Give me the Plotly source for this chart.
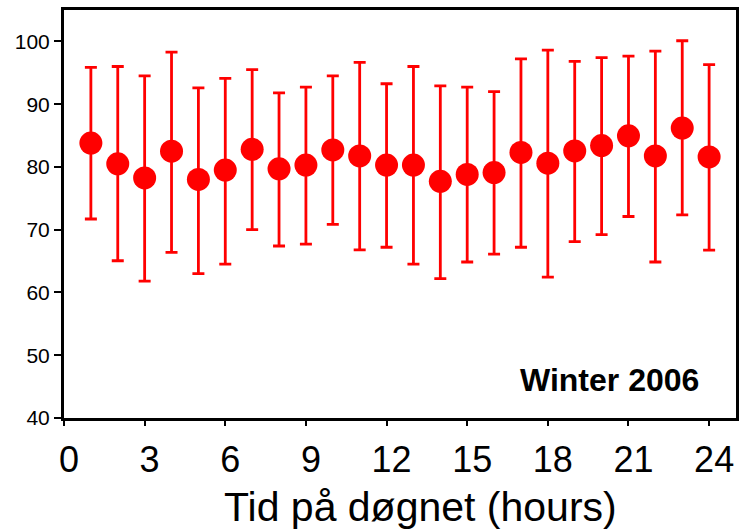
import plotly.graph_objects as go

hours = list(range(1, 25))
mean_vals = [83.8, 80.5, 78.25, 82.5, 78.0, 79.5, 82.8, 79.7, 80.3, 82.7, 81.75, 80.3,
             80.3, 77.7, 78.8, 79.1, 82.3, 80.6, 82.55, 83.4, 84.95, 81.75, 86.2, 81.6]
upper_vals = [95.85, 96.0, 94.5, 98.3, 92.6, 94.1, 95.5, 91.8, 92.7, 94.5, 96.65, 93.25,
              96.0, 92.9, 92.7, 92.0, 97.2, 98.6, 96.8, 97.4, 97.65, 98.45, 100.1, 96.3]
lower_vals = [71.7, 65.05, 61.8, 66.4, 63.0, 64.5, 70.0, 67.4, 67.7, 70.85, 66.8, 67.2,
              64.5, 62.2, 64.85, 66.1, 67.2, 62.45, 68.1, 69.2, 72.1, 64.85, 72.35, 66.75]
x_ticks = [0, 3, 6, 9, 12, 15, 18, 21, 24]
y_ticks = [40, 50, 60, 70, 80, 90, 100]

err_plus = [u - m for u, m in zip(upper_vals, mean_vals)]
err_minus = [m - l for m, l in zip(mean_vals, lower_vals)]

FONT = "Arial, Liberation Sans, sans-serif"
RED = "#FF0000"

fig = go.Figure()
fig.add_trace(go.Scatter(
    x=hours, y=mean_vals, mode="markers",
    marker=dict(color=RED, size=23, line=dict(width=0)),
    error_y=dict(type="data", symmetric=False, array=err_plus, arrayminus=err_minus,
                 color=RED, thickness=2.8, width=6),
    showlegend=False,
))

fig.update_layout(
    width=744, height=532,
    margin=dict(l=64, r=5, t=10, b=114, pad=0),
    paper_bgcolor="white", plot_bgcolor="white",
    font=dict(family=FONT, color="black"),
    xaxis=dict(range=[0, 25], tickmode="array", tickvals=x_ticks,
               ticks="outside", ticklen=5, tickwidth=1.5, tickcolor="black",
               tickfont=dict(size=36, family=FONT), ticklabelstandoff=3,
               ticklabelshift=5,
               showline=True, linewidth=3, linecolor="black", mirror=True,
               showgrid=False, zeroline=False),
    yaxis=dict(range=[40, 105], tickmode="array", tickvals=y_ticks,
               ticks="outside", ticklen=7, tickwidth=1.5, tickcolor="black",
               tickfont=dict(size=21, family=FONT), ticklabelstandoff=0,
               showline=True, linewidth=3, linecolor="black", mirror=True,
               showgrid=False, zeroline=False),
    annotations=[
        dict(text="Tid på døgnet (hours)", xref="paper", yref="paper",
             x=(422.5 - 64) / 675, y=-(482 - 418) / 408,
             xanchor="center", yanchor="top", showarrow=False,
             font=dict(size=41, family=FONT, color="black")),
        dict(text="<b>Winter 2006</b>", xref="paper", yref="paper",
             x=(612 - 64) / 675, y=(418 - 380) / 408,
             xanchor="center", yanchor="middle", showarrow=False,
             font=dict(size=32, family=FONT, color="black")),
    ],
)

fig.write_html("out.html", config={"displayModeBar": False},
               post_script="document.body.style.margin='0';")
